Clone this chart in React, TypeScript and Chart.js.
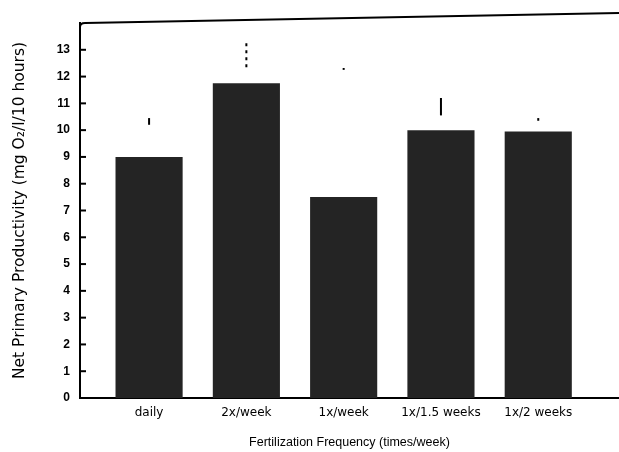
import React, { useEffect, useRef } from "react";
import { Chart, registerables } from "chart.js";

Chart.register(...registerables);

const categories = ["daily", "2x/week", "1x/week", "1x/1.5 weeks", "1x/2 weeks"];
const productivity = [9.0, 11.75, 7.5, 10.0, 9.95];
const errLow = [10.2, 12.35, 12.25, 10.55, 10.35];
const errHigh = [10.45, 13.3, 12.32, 11.2, 10.45];
const yTicks = [0, 1, 2, 3, 4, 5, 6, 7, 8, 9, 10, 11, 12, 13];

const FONT = "'Liberation Sans', Arial, sans-serif";
const WIDE = "'DejaVu Sans', Verdana, sans-serif";

const decorPlugin = {
  id: "decor",
  afterDatasetsDraw(chart: any) {
    const { ctx, chartArea, scales } = chart;
    const y = scales.y;
    const meta = chart.getDatasetMeta(0);
    ctx.save();
    ctx.strokeStyle = "#000";
    ctx.lineCap = "butt";
    // error bars
    meta.data.forEach((bar: any, i: number) => {
      const yh = y.getPixelForValue(errHigh[i]);
      const yl = y.getPixelForValue(errLow[i]);
      ctx.lineWidth = 2;
      ctx.setLineDash(i === 1 ? [3, 4] : []);
      ctx.beginPath();
      ctx.moveTo(bar.x, yl);
      ctx.lineTo(bar.x, yh);
      ctx.stroke();
    });
    ctx.setLineDash([]);
    // inward tick marks
    ctx.lineWidth = 2;
    y.ticks.forEach((t: any) => {
      const py = y.getPixelForValue(t.value);
      ctx.beginPath();
      ctx.moveTo(chartArea.left, py);
      ctx.lineTo(chartArea.left + 6, py);
      ctx.stroke();
    });
    // top frame line
    ctx.lineWidth = 2;
    ctx.beginPath();
    ctx.moveTo(chartArea.left, chartArea.top + 4);
    ctx.quadraticCurveTo(chartArea.left, chartArea.top, chartArea.left + 5, chartArea.top);
    ctx.lineTo(chartArea.right, chartArea.top - 10);
    ctx.stroke();
    ctx.restore();
  },
};

export default function App() {
  const ref = useRef<HTMLCanvasElement | null>(null);
  useEffect(() => {
    if (!ref.current) return;
    const chart = new Chart(ref.current, {
      type: "bar",
      data: {
        datasets: [
          {
            data: productivity.map((v, i) => ({ x: i, y: v })),
            backgroundColor: "#242424",
            borderWidth: 0,
            barPercentage: 0.69,
            categoryPercentage: 1,
          },
        ],
      },
      options: {
        responsive: false,
        animation: false,
        layout: { padding: { top: 23, right: 0, bottom: 0, left: 0 } },
        plugins: { legend: { display: false }, tooltip: { enabled: false } },
        scales: {
          x: {
            type: "linear",
            offset: false,
            min: -0.71,
            max: 4.83,
            afterBuildTicks: (s: any) => {
              s.ticks = categories.map((_, i) => ({ value: i }));
            },
            afterFit: (s: any) => {
              s.height = 54;
            },
            grid: { display: false, drawTicks: false },
            border: { display: true, color: "#000", width: 2 },
            ticks: {
              padding: 8,
              color: "#000",
              font: { family: WIDE, size: 12 },
              callback: (v: any) => categories[v as number] ?? "",
            },
            title: {
              display: true,
              text: "Fertilization Frequency (times/week)",
              color: "#000",
              font: { family: FONT, size: 12.5 },
              padding: { top: 0, bottom: 2 },
            },
          },
          y: {
            min: 0,
            max: 14,
            afterBuildTicks: (s: any) => {
              s.ticks = yTicks.map((v) => ({ value: v }));
            },
            afterFit: (s: any) => {
              s.width = 80;
            },
            grid: { display: false, drawTicks: false },
            border: { display: true, color: "#000", width: 2 },
            ticks: {
              padding: 10,
              color: "#000",
              font: { family: FONT, size: 12, weight: "bold" },
            },
            title: {
              display: true,
              text: "Net Primary Productivity (mg O\u2082/l/10 hours)",
              color: "#000",
              font: { family: WIDE, size: 15.5 },
              padding: { top: 11, bottom: 0 },
            },
          },
        },
      },
      plugins: [decorPlugin],
    } as any);
    return () => chart.destroy();
  }, []);
  return (
    <div style={{ position: "fixed", left: 0, top: 0, width: 619, height: 452, background: "#fff" }}>
      <canvas ref={ref} width={619} height={452} />
    </div>
  );
}
